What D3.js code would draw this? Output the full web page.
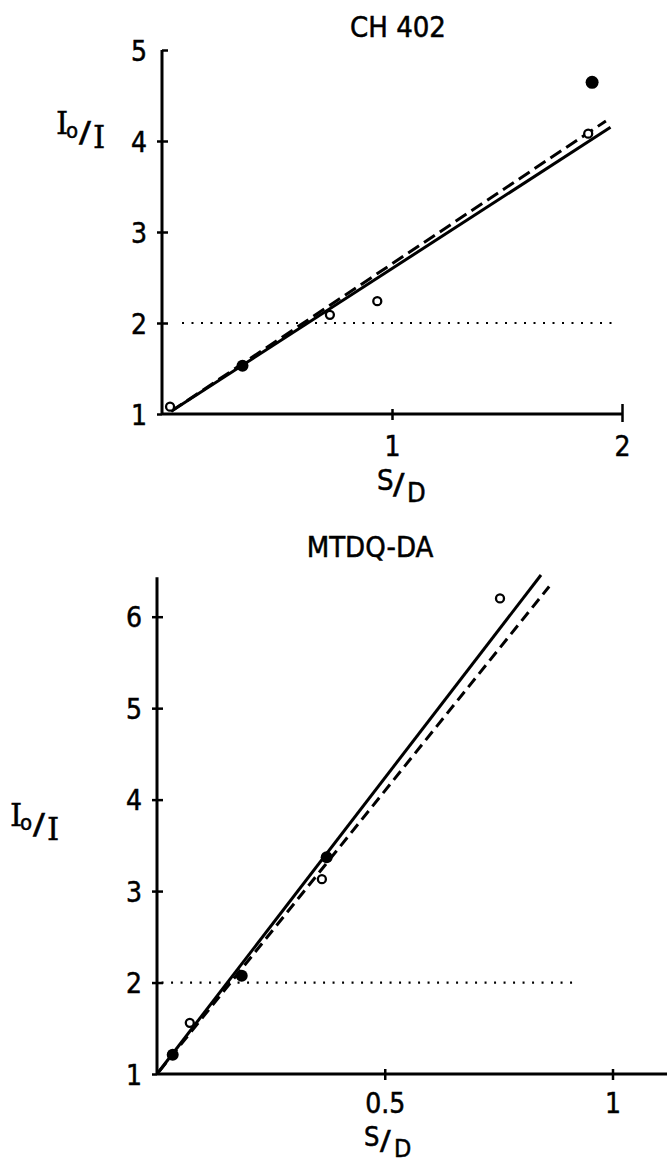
<!DOCTYPE html>
<html>
<head>
<meta charset="utf-8">
<script src="https://cdn.jsdelivr.net/npm/d3@7"></script>
<style>
  body { margin: 0; background: #fff; }
  svg { display: block; }
  .num { font-family: "DejaVu Sans Condensed", "Liberation Sans Narrow", "DejaVu Sans", sans-serif; fill: #000; stroke: #000; stroke-width: 0.5; }
  .ser { font-family: "DejaVu Serif", "Liberation Serif", serif; fill: #000; stroke: #000; stroke-width: 0.4; }
</style>
</head>
<body>
<svg id="chart" width="667" height="1162"></svg>
<script>
// CH 402 panel
const chTicksX = [1, 2];
const chTicksY = [1, 2, 3, 4, 5];
const chOpen = [[0.035, 1.08], [0.73, 2.09], [0.936, 2.24], [1.853, 4.08]];
const chFilled = [[0.35, 1.53], [1.87, 4.645]];
const chSolid = [[0.04, 1.03], [1.95, 4.15]];
const chDashed = [[0.04, 1.03], [1.93, 4.22]];
const chHalf = [[0.087, 2], [1.97, 2]];

// MTDQ-DA panel
const mtTicksX = [0.5, 1];
const mtTicksY = [1, 2, 3, 4, 5, 6];
const mtOpen = [[0.072, 1.56], [0.362, 3.13], [0.753, 6.2]];
const mtFilled = [[0.0345, 1.21], [0.186, 2.075], [0.3725, 3.37]];
const mtSolid = [[0, 1], [0.843, 6.456]];
const mtDashed = [[0.005, 1.03], [0.861, 6.33]];
const mtHalf = [[0.01, 2], [0.918, 2]];

const svg = d3.select('#chart');

// I0/I label drawn piece by piece, (x, y) = baseline of the first I
function ratioLabel(x, y) {
	const g = svg.append('g');
	g.append('text').attr('class', 'ser').attr('x', x).attr('y', y).attr('font-size', 31).text('I');
	g.append('text').attr('class', 'num').attr('x', x + 10).attr('y', y + 4).attr('font-size', 22).text('o');
	// slash, a bit wider than the font gives
	g.append('text').attr('class', 'num')
		.attr('transform', `translate(${x + 23},${y + 8}) scale(1.4,1)`)
		.attr('font-size', 28).text('/');
	g.append('text').attr('class', 'ser').attr('x', x + 37).attr('y', y + 14).attr('font-size', 31).text('I');
}

// S/D label, (x, y) = baseline of S
function sdLabel(x, y, size) {
	const g = svg.append('g');
	g.append('text').attr('class', 'num').attr('x', x).attr('y', y).attr('font-size', size).text('S');
	g.append('text').attr('class', 'num')
		.attr('transform', `translate(${x + 16},${y + 4}) scale(1.3,1)`)
		.attr('font-size', size).text('/');
	g.append('text').attr('class', 'num').attr('x', x + 30).attr('y', y + size * 0.4).attr('font-size', size - 2).text('D');
}

function panel(opt) {
	const { x, y } = opt;
	const g = svg.append('g');

	// y axis
	const ay = g.append('g')
		.attr('transform', `translate(${x(0)},0)`)
		.call(d3.axisLeft(y).tickValues(opt.ticksY).tickSize(0).tickPadding(15).tickFormat(d3.format('d')));
	ay.select('.domain').remove();
	ay.selectAll('.tick line')
		.attr('x1', d => (d === opt.yTop ? 0 : -5))
		.attr('x2', d => (d === opt.ticksY[0] ? 0 : 6))
		.attr('stroke', '#000').attr('stroke-width', 2.5);
	ay.selectAll('text').attr('class', 'num').attr('font-size', 28).attr('dy', '0.36em');
	ay.attr('font-family', null).attr('font-size', null);
	g.append('line')
		.attr('x1', x(0)).attr('x2', x(0))
		.attr('y1', y(1)).attr('y2', y(opt.yTop))
		.attr('stroke', '#000').attr('stroke-width', 3);

	// x axis
	const ax = g.append('g')
		.attr('transform', `translate(0,${y(1)})`)
		.call(d3.axisBottom(x).tickValues(opt.ticksX).tickSize(0).tickPadding(opt.xPad).tickFormat(d => d));
	ax.select('.domain').remove();
	ax.selectAll('.tick line')
		.attr('y1', d => (d === opt.xLongTick ? -10 : -5))
		.attr('y2', d => (d === opt.xLongTick ? 8 : 6))
		.attr('stroke', '#000').attr('stroke-width', 2.5);
	ax.selectAll('text').attr('class', 'num').attr('font-size', 28).attr('dy', '0.71em');
	ax.attr('font-family', null).attr('font-size', null);
	g.append('line')
		.attr('x1', x(0)).attr('x2', x(opt.xEnd))
		.attr('y1', y(1)).attr('y2', y(1))
		.attr('stroke', '#000').attr('stroke-width', 3);

	const line = d3.line().x(d => x(d[0])).y(d => y(d[1]));

	// half-intensity level
	g.append('path').attr('d', line(opt.half))
		.attr('fill', 'none').attr('stroke', '#000').attr('stroke-width', 2.2)
		.attr('stroke-dasharray', '2,7.5');

	g.append('path').attr('d', line(opt.solid))
		.attr('fill', 'none').attr('stroke', '#000').attr('stroke-width', 3);
	g.append('path').attr('d', line(opt.dashed))
		.attr('fill', 'none').attr('stroke', '#000').attr('stroke-width', 3)
		.attr('stroke-dasharray', opt.dash);

	g.selectAll('circle.open').data(opt.open).enter().append('circle')
		.attr('class', 'open')
		.attr('cx', d => x(d[0])).attr('cy', d => y(d[1])).attr('r', 4)
		.attr('fill', '#fff').attr('stroke', '#000').attr('stroke-width', 2.3);
	g.selectAll('circle.filled').data(opt.filled).enter().append('circle')
		.attr('class', 'filled')
		.attr('cx', d => x(d[0])).attr('cy', d => y(d[1])).attr('r', d => (d[1] > 4 ? 6.5 : 6))
		.attr('fill', '#000');

	g.append('text').attr('class', 'num')
		.attr('x', opt.titleX).attr('y', opt.titleY)
		.attr('text-anchor', 'middle').attr('font-size', 29)
		.text(opt.title);
}

panel({
	title: 'CH 402', titleX: 398, titleY: 37,
	x: d3.scaleLinear().domain([0, 2]).range([162, 622]),
	y: d3.scaleLinear().domain([1, 5]).range([414, 50]),
	ticksX: chTicksX, ticksY: chTicksY, yTop: 5, xEnd: 2, xLongTick: 2, xPad: 22,
	open: chOpen, filled: chFilled, solid: chSolid, dashed: chDashed, half: chHalf,
	dash: '13,6'
});
ratioLabel(56, 134);
sdLabel(377, 490, 29);

panel({
	title: 'MTDQ-DA', titleX: 370, titleY: 557,
	x: d3.scaleLinear().domain([0, 1]).range([157, 612.5]),
	y: d3.scaleLinear().domain([1, 6]).range([1074, 616.7]),
	ticksX: mtTicksX, ticksY: mtTicksY, yTop: 6.43, xEnd: 1.12, xLongTick: null, xPad: 19,
	open: mtOpen, filled: mtFilled, solid: mtSolid, dashed: mtDashed, half: mtHalf,
	dash: '11,6'
});
ratioLabel(10, 826);
sdLabel(364, 1146, 27);
</script>
</body>
</html>
